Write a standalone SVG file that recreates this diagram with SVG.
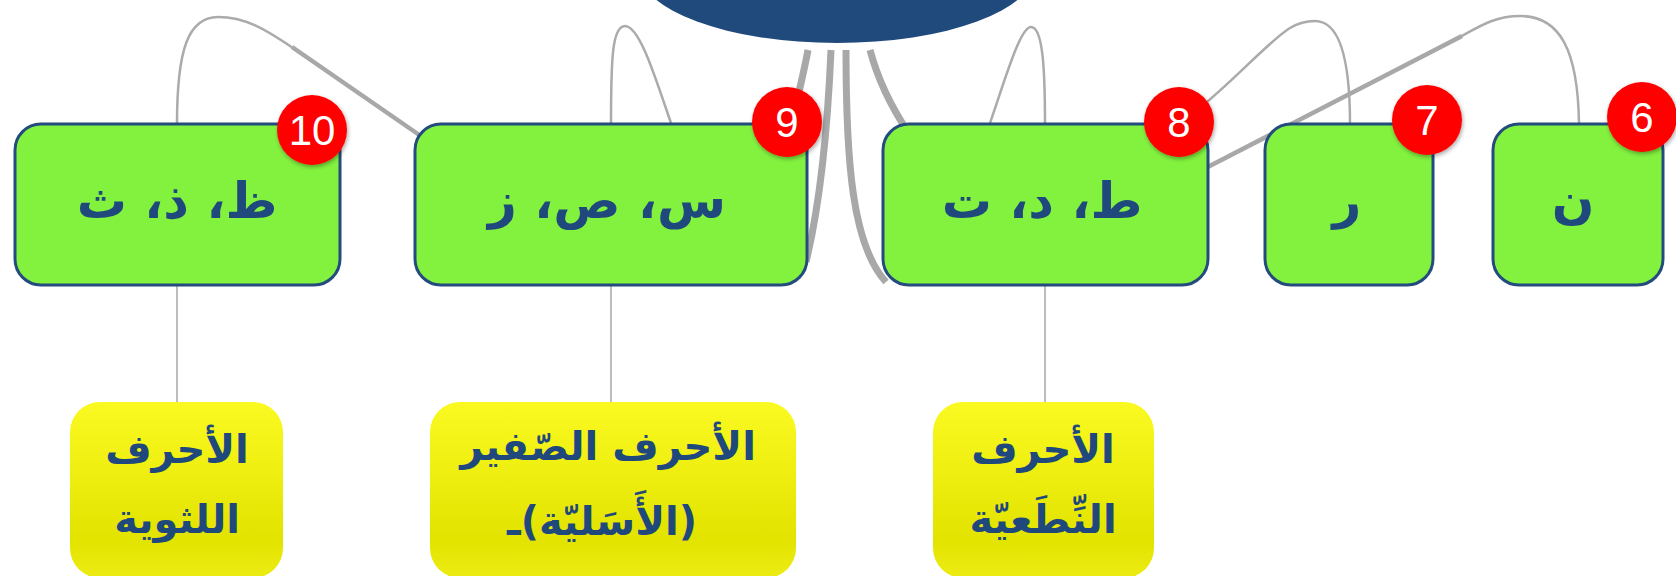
<svg xmlns="http://www.w3.org/2000/svg" width="1676" height="576" viewBox="0 0 1676 576">
<style>
.green{fill:#83F23F;stroke:#234B7E;stroke-width:3}
.yellow{fill:url(#yg)}
.gt{font-family:"DejaVu Sans",sans-serif;font-weight:bold;font-size:50px;fill:#1F497D;text-anchor:middle;direction:rtl}
.yt{font-family:"DejaVu Sans",sans-serif;font-weight:bold;font-size:40px;fill:#1F497D;text-anchor:middle;direction:rtl}
.badge{fill:#FF0000;filter:url(#sh)}
.bt{font-family:"Liberation Sans",Arial,sans-serif;font-size:42px;fill:#FFFFFF;text-anchor:middle}
.thick{stroke:#A8A8A8;stroke-width:7;fill:none}
.mid{stroke:#A8A8A8;stroke-width:4.5;fill:none}
.thin{stroke:#ABABAB;stroke-width:2.5;fill:none}
.vline{stroke:#BDBDBD;stroke-width:2;fill:none}
</style>
<defs>
<linearGradient id="yg" x1="0" y1="0" x2="0" y2="1">
<stop offset="0" stop-color="#FAFA22"/>
<stop offset="0.78" stop-color="#E3E300"/>
<stop offset="1" stop-color="#ECEC14"/>
</linearGradient>
<filter id="sh" x="-30%" y="-30%" width="160%" height="160%">
<feDropShadow dx="1" dy="2" stdDeviation="2" flood-color="#000" flood-opacity="0.35"/>
</filter>
</defs>
<rect width="1676" height="576" fill="#FFFFFF"/>
<g id="central"><ellipse cx="837" cy="-30" rx="198" ry="73" fill="#214A7C"/></g>
<g id="connectors">
<path class="thick" d="M808,50 C804,72 798,95 790,132"/>
<path class="mid" d="M428,141 L292,47"/>
<path class="thin" d="M293,48 C265,29 245,17 218,17 C188,17 177,50 177,124"/>
<path class="thick" d="M831,50 C828,120 821,200 806,262"/>
<path class="thin" d="M672,126 C656,80 640,26 625,26 C612,26 611,60 611,125"/>
<path class="thick" d="M846,50 C846,160 852,245 886,282"/>
<path class="thin" d="M989,126 C1005,80 1020,27 1031,27 C1043,27 1045,70 1045,125"/>
<path class="thick" d="M870,50 C878,80 890,105 908,132"/>
<path class="thin" d="M1195,112 C1235,80 1270,40 1290,28 C1300,22 1308,21 1315,21 C1340,21 1350,60 1350,124"/>
<path class="mid" d="M1200,171 L1462,36"/>
<path class="thin" d="M1460,37 C1480,26 1495,16 1520,16 C1560,16 1578,50 1579,124"/>
<path class="vline" d="M177,285 V402"/>
<path class="vline" d="M611,285 V402"/>
<path class="vline" d="M1045,285 V402"/>
</g>
<g id="node10">
<rect class="green" x="15" y="124" width="325" height="161" rx="26"/>
<text class="gt" x="177" y="218">ظ، ذ، ث</text>
<circle class="badge" cx="312" cy="130" r="35"/>
<text class="bt" x="312" y="145">10</text>
</g>
<g id="node9">
<rect class="green" x="415" y="124" width="392" height="161" rx="26"/>
<text class="gt" x="607" y="218">س، ص، ز</text>
<circle class="badge" cx="787" cy="122" r="35"/>
<text class="bt" x="787" y="137">9</text>
</g>
<g id="node8">
<rect class="green" x="883" y="124" width="325" height="161" rx="26"/>
<text class="gt" x="1042" y="218">ط، د، ت</text>
<circle class="badge" cx="1179" cy="122" r="35"/>
<text class="bt" x="1179" y="137">8</text>
</g>
<g id="node7">
<rect class="green" x="1265" y="124" width="168" height="161" rx="26"/>
<text class="gt" x="1347" y="218">ر</text>
<circle class="badge" cx="1427" cy="120" r="35"/>
<text class="bt" x="1427" y="135">7</text>
</g>
<g id="node6">
<rect class="green" x="1493" y="124" width="170" height="161" rx="26"/>
<text class="gt" x="1573" y="218">ن</text>
<circle class="badge" cx="1642" cy="117" r="35"/>
<text class="bt" x="1642" y="132">6</text>
</g>
<g id="sub10">
<rect class="yellow" x="70" y="402" width="213" height="176" rx="30"/>
<text class="yt" x="177" y="463">الأحرف</text>
<text class="yt" x="177" y="533">اللثوية</text>
</g>
<g id="sub9">
<rect class="yellow" x="430" y="402" width="366" height="176" rx="30"/>
<text class="yt" x="608" y="460">الأحرف الصّفير</text>
<text class="yt" x="602" y="535">(الأَسَليّة)ـ</text>
</g>
<g id="sub8">
<rect class="yellow" x="933" y="402" width="221" height="176" rx="30"/>
<text class="yt" x="1043" y="463">الأحرف</text>
<text class="yt" x="1043" y="533">النِّطَعيّة</text>
</g>
</svg>
